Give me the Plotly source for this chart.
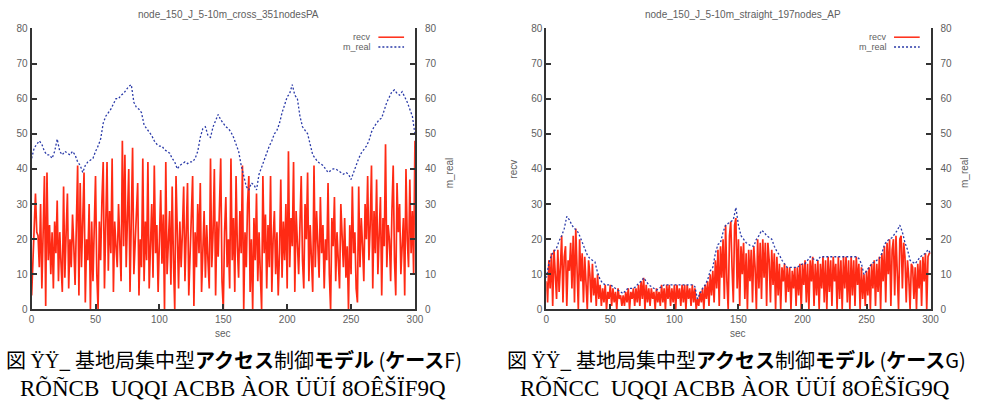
import plotly.graph_objects as go

W, H = 986, 413

# ---------------- data ----------------
t_recv = list(range(0, 301, 1))
t_real = list(range(0, 301, 2))

recv_cross = [
    4, 16, 24, 33, 22, 21, 12, 30, 6, 25,
    38, 1, 39, 14, 24, 10, 22, 6, 25, 16,
    31, 8, 22, 13, 5, 35, 9, 22, 33, 6,
    20, 12, 27, 18, 7, 24, 41, 4, 36, 12,
    26, 39, 2, 20, 14, 30, 0, 25, 8, 22,
    38, 10, 0, 25, 14, 31, 42, 6, 20, 42,
    11, 28, 16, 43, 5, 25, 18, 12, 30, 20,
    8, 48, 18, 44, 12, 26, 40, 5, 22, 46,
    10, 18, 28, 36, 4, 20, 12, 43, 8, 25,
    14, 42, 6, 21, 30, 9, 41, 16, 24, 5,
    20, 34, 13, 27, 0, 42, 10, 20, 28, 7,
    35, 14, 0, 38, 18, 6, 25, 12, 22, 35,
    8, 24, 36, 4, 18, 28, 38, 1, 22, 12,
    30, 16, 36, 5, 20, 28, 9, 24, 14, 6,
    43, 12, 22, 40, 4, 25, 15, 30, 43, 8,
    0, 22, 32, 12, 20, 6, 43, 14, 26, 5,
    38, 18, 9, 28, 16, 41, 0, 22, 12, 30,
    38, 5, 20, 0, 26, 14, 33, 8, 22, 10,
    0, 38, 16, 27, 6, 24, 12, 38, 5, 20,
    28, 10, 22, 4, 16, 37, 9, 25, 14, 30,
    6, 45, 12, 26, 18, 42, 5, 28, 20, 10,
    24, 38, 14, 6, 30, 20, 39, 8, 24, 15,
    5, 41, 12, 28, 18, 9, 32, 16, 24, 6,
    20, 14, 36, 10, 0, 26, 18, 32, 8, 22,
    14, 6, 30, 20, 12, 26, 9, 18, 0, 24,
    10, 35, 16, 22, 6, 2, 35, 12, 26, 18,
    8, 30, 20, 38, 14, 24, 41, 6, 28, 16,
    37, 10, 22, 32, 4, 26, 18, 47, 12, 24,
    20, 8, 28, 41, 14, 4, 36, 22, 30, 10,
    18, 26, 4, 40, 20, 12, 37, 16, 28, 10,
    48,
]

real_cross = [
    43, 46, 47, 48, 47, 45, 44, 44, 43, 45,
    48.5, 45, 44, 45, 44.5, 44, 45, 44, 42, 41,
    39, 41, 42, 42.5, 43, 45, 46.5, 48.5, 53, 55,
    56, 57, 58.5, 60, 60, 61, 61.5, 62.5, 63.5, 64,
    59, 57.5, 57, 56, 52.5, 51.5, 50.5, 49.5, 48, 47,
    46.5, 46.5, 45.5, 45, 44.5, 43, 42, 40, 41, 41.5,
    42, 41.5, 42, 42, 43, 45, 49, 51.5, 52, 49.5,
    49, 52, 54, 55.5, 54, 53, 52, 51.5, 50.5, 49,
    47, 45, 41, 38, 35, 34, 36, 35.5, 34, 38.5,
    40.5, 43, 45, 46.5, 48, 50, 51, 53, 56, 58.5,
    60.5, 61.5, 64, 61, 60, 55, 52, 51, 50, 47,
    44, 43, 42, 41.5, 41, 40, 39, 39.5, 40, 40,
    39.5, 39, 38.5, 39, 38.5, 37, 39, 41.5, 43, 44.5,
    45.5, 46.5, 48, 50.5, 52, 53, 54, 54.5, 57, 59,
    60.5, 62, 62.5, 61.5, 61, 62, 60.5, 59, 57, 55,
    50,
]

recv_straight = [
    8, 2, 14, 6, 16, 1, 17, 10, 3, 17,
    5, 12, 21, 2, 15, 18, 1, 14, 11, 19,
    6, 21, 2, 23, 12, 0, 20, 8, 16, 2,
    15, 6, 0, 14, 10, 2, 13, 4, 9, 1,
    10, 3, 7, 1, 6, 2, 7, 0, 5, 3,
    7, 1, 6, 2, 5, 0, 6, 3, 4, 1,
    4, 1, 5, 2, 6, 0, 5, 3, 6, 1,
    6, 2, 7, 1, 8, 3, 9, 0, 7, 2,
    6, 1, 6, 3, 5, 0, 6, 2, 5, 1,
    7, 2, 6, 0, 7, 3, 7, 1, 6, 2,
    7, 0, 7, 3, 6, 1, 7, 2, 7, 0,
    7, 3, 6, 1, 7, 2, 6, 0, 3, 1,
    5, 2, 6, 0, 7, 3, 8, 1, 10, 4,
    11, 2, 14, 6, 17, 1, 18, 9, 20, 3,
    24, 8, 0, 21, 25, 12, 2, 24, 26, 6,
    20, 1, 18, 10, 19, 3, 16, 0, 17, 8,
    17, 2, 18, 12, 0, 20, 6, 19, 3, 20,
    9, 19, 1, 19, 14, 2, 17, 7, 16, 0,
    15, 4, 13, 0, 12, 8, 13, 2, 12, 5,
    12, 0, 11, 6, 12, 1, 12, 4, 13, 0,
    13, 7, 14, 2, 13, 0, 14, 8, 15, 1,
    13, 4, 14, 0, 13, 6, 15, 2, 14, 0,
    15, 5, 14, 1, 15, 8, 13, 0, 15, 3,
    14, 0, 15, 6, 15, 2, 14, 0, 15, 4,
    14, 1, 15, 7, 13, 0, 12, 3, 10, 1,
    11, 4, 12, 0, 13, 6, 14, 1, 13, 5,
    15, 0, 16, 8, 18, 2, 19, 10, 20, 1,
    17, 20, 4, 21, 12, 0, 20, 21, 6, 19,
    15, 2, 14, 9, 0, 13, 12, 3, 12, 0,
    13, 6, 14, 1, 15, 8, 16, 0, 15, 16,
    16,
]

real_straight = [
    9, 13, 15.5, 16.5, 17.5, 19.5, 21, 23, 26.5, 25.5,
    24, 23, 22.5, 21, 19, 17.5, 15.5, 14.5, 14, 13.5,
    10.5, 8.5, 7.5, 7, 7, 7, 6.5, 6, 5.5, 5,
    4.5, 5.5, 6, 6, 6, 6.5, 7.5, 8, 9, 8,
    7, 6.5, 6, 5.5, 6, 6.5, 7, 7, 7, 7,
    7, 7, 7, 7, 7, 7, 7, 7, 6.5, 3,
    4.5, 6, 7, 8.5, 11, 12, 16, 18.5, 19, 22,
    24, 24.5, 25, 25.5, 29, 24, 21, 20, 19, 18.5,
    18, 18, 20, 21, 22.5, 22, 21, 20.5, 20, 18,
    16.5, 15.5, 14, 13, 12, 12, 12, 12, 12, 12.5,
    13, 13, 14, 15, 14.5, 14, 14, 15, 15, 15,
    15, 15, 15, 15, 15, 15, 15, 15, 15, 15,
    15, 15, 14.5, 13, 10, 11, 12, 13, 13.5, 14,
    14.5, 16, 18.5, 19.5, 20, 20.5, 21.5, 22.5, 24, 22,
    19, 17, 14, 13.5, 13, 14, 15, 15.5, 16, 17,
    16,
]

titles = ["node_150_J_5-10m_cross_351nodesPA", "node_150_J_5-10m_straight_197nodes_AP"]
series_names = ["recv", "m_real"]
x_title = "sec"
cap1 = ["図 ŸŸ_ 基地局集中型<b>アクセス</b>制御<b>モデル</b> (<b>ケース</b>F)",
        "図 ŸŸ_ 基地局集中型<b>アクセス</b>制御<b>モデル</b> (<b>ケース</b>G)"]
cap2 = ["RÕÑCB  UQQI ACBB ÀOR ÜÜÍ 8OÊŠÏF9Q",
        "RÕÑCC  UQQI ACBB ÀOR ÜÜÍ 8OÊŠÏG9Q"]

# ---------------- styling ----------------
RED = "#ff2a14"
BLUE = "#2a3aa8"
AX = "#333333"
TXT = "#606060"
FONT = "Liberation Sans"


def px(x):
    return x / W


def py(y):
    return 1 - y / H


panels = [
    dict(x0=29, x1=417),
    dict(x0=550, x1=939),
]
y_top, y_bot = 24, 312

fig = go.Figure()

data = [(recv_cross, real_cross), (recv_straight, real_straight)]
for i, (rv, rl) in enumerate(data):
    xa = "x" if i == 0 else "x2"
    ya = "y" if i == 0 else "y3"
    ya2 = "y2" if i == 0 else "y4"
    fig.add_trace(go.Scatter(x=t_recv, y=rv, xaxis=xa, yaxis=ya, mode="lines",
                             line=dict(color=RED, width=1.7), name=series_names[0],
                             showlegend=False))
    fig.add_trace(go.Scatter(x=t_real, y=rl, xaxis=xa, yaxis=ya2, mode="lines",
                             line=dict(color=BLUE, width=1.3, dash="2px,2px"),
                             name=series_names[1], showlegend=False))

common = dict(showline=True, linecolor=AX, linewidth=2, ticks="inside", ticklen=5,
              tickwidth=1.5, tickcolor=AX, showgrid=False, zeroline=False,
              tickfont=dict(family=FONT, size=10, color=TXT))

layout = dict(width=W, height=H, margin=dict(l=0, r=0, t=0, b=0),
              paper_bgcolor="white", plot_bgcolor="white", showlegend=False)

for i, p in enumerate(panels):
    xn = "xaxis" if i == 0 else "xaxis2"
    xa = "x" if i == 0 else "x2"
    yn = "yaxis" if i == 0 else "yaxis3"
    yn2 = "yaxis2" if i == 0 else "yaxis4"
    ya = "y" if i == 0 else "y3"
    layout[xn] = dict(common, domain=[px(p["x0"]), px(p["x1"])], range=[0, 300],
                      dtick=50, anchor=ya)
    layout[yn] = dict(common, domain=[py(y_bot), py(y_top)], range=[0, 80], dtick=10,
                      anchor=xa, side="left")
    layout[yn2] = dict(common, range=[0, 80], dtick=10, anchor=xa, overlaying=ya,
                       side="right", ticklabelstandoff=6)

fig.update_layout(**layout)

ann = []
shapes = []


def note(x, y, text, size=10, color=TXT, family=FONT, xanchor="center", angle=0):
    ann.append(dict(x=px(x), y=py(y), xref="paper", yref="paper", text=text,
                    xanchor=xanchor, yanchor="middle", showarrow=False, textangle=angle,
                    font=dict(family=family, size=size, color=color)))


for i, p in enumerate(panels):
    cx = (p["x0"] + p["x1"]) / 2
    note(cx + 5, 10, titles[i])
    note(cx, 337, x_title)
    note(p["x1"] + 35, 172, series_names[1], angle=-90)
    if i == 1:
        note(p["x0"] - 33, 168, series_names[0], angle=-90)
    # legend
    lx_text = p["x1"] - 42
    for nm, col, dash, yy in [(series_names[0], RED, "solid", 33),
                              (series_names[1], BLUE, "2px,2px", 43)]:
        note(lx_text, yy, nm, size=9, xanchor="right")
        shapes.append(dict(type="line", xref="paper", yref="paper",
                           x0=px(lx_text + 5), x1=px(lx_text + 31), y0=py(yy), y1=py(yy),
                           line=dict(color=col, width=1.5, dash=dash)))

# captions
cap_x = [1, 508]
cap2_x = [15, 521]
for i in range(2):
    note(cap_x[i], 363, cap1[i], size=20, color="black", family="Noto Sans CJK JP",
         xanchor="left")
    note(cap2_x[i], 392, cap2[i], size=23, color="black", family="Liberation Serif",
         xanchor="left")

fig.update_layout(annotations=ann, shapes=shapes)
fig.write_html("out.html")
